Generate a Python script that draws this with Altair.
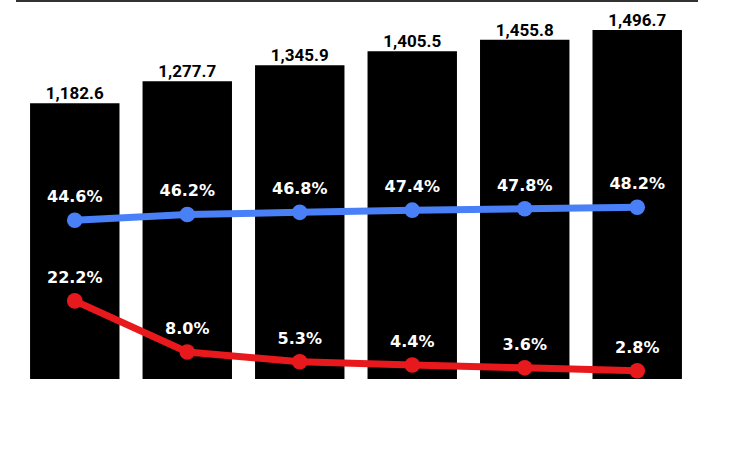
import altair as alt
import pandas as pd

periods = ["1", "2", "3", "4", "5", "6"]
totals = [1182.6, 1277.7, 1345.9, 1405.5, 1455.8, 1496.7]
blue_pct = [44.6, 46.2, 46.8, 47.4, 47.8, 48.2]
red_pct = [22.2, 8.0, 5.3, 4.4, 3.6, 2.8]

bars_df = pd.DataFrame({"period": periods, "total": totals})
bars_df["label"] = [f"{v:,.1f}" for v in totals]

lines_df = pd.DataFrame({
    "period": periods * 2,
    "pct": blue_pct + red_pct,
    "series": ["blue"] * 6 + ["red"] * 6,
})
lines_df["label"] = [f"{v:.1f}%" for v in lines_df["pct"]]

W, H = 680, 378

xenc = alt.X("period:N", sort=periods, axis=None,
             scale=alt.Scale(paddingInner=0.205, paddingOuter=0.125))
yb = alt.Y("total:Q", axis=None,
           scale=alt.Scale(domain=[0, 1621.6], nice=False, zero=True))
yp = alt.Y("pct:Q", axis=None,
           scale=alt.Scale(domain=[0.5, 105.5], nice=False, zero=False))
color = alt.Color("series:N", legend=None,
                  scale=alt.Scale(domain=["blue", "red"], range=["#4a80f7", "#e8191c"]))

bars = alt.Chart(bars_df).mark_bar(color="black").encode(x=xenc, y=yb)
bar_labels = alt.Chart(bars_df).mark_text(
    baseline="alphabetic", dy=-4, font="Roboto", fontWeight="bold",
    fontSize=17, color="black"
).encode(x=xenc, y=yb, text="label:N")

lines = alt.Chart(lines_df).mark_line(strokeWidth=7).encode(
    x=xenc, y=yp, color=color, detail="series:N")
points = alt.Chart(lines_df).mark_circle(size=245, opacity=1).encode(
    x=xenc, y=yp, color=color)
pct_labels = alt.Chart(lines_df).mark_text(
    baseline="alphabetic", dy=-18, font="DejaVu Sans", fontWeight="bold",
    fontSize=16, color="white"
).encode(x=xenc, y=yp, text="label:N")

top_rule = alt.Chart(bars_df).mark_rule(color="#333333", strokeWidth=1.5).encode(
    x=alt.value(0), x2=alt.value(682), y=alt.value(0))

chart = alt.layer(
    bars, bar_labels, lines, points, pct_labels, top_rule
).resolve_scale(y="independent").properties(
    width=W, height=H,
    padding={"left": 16, "top": 1, "right": 45, "bottom": 87},
    autosize=alt.AutoSizeParams(type="none"),
    background="white",
).configure_view(stroke=None)

chart.save("out.html", embed_options={"renderer": "svg", "actions": False})
